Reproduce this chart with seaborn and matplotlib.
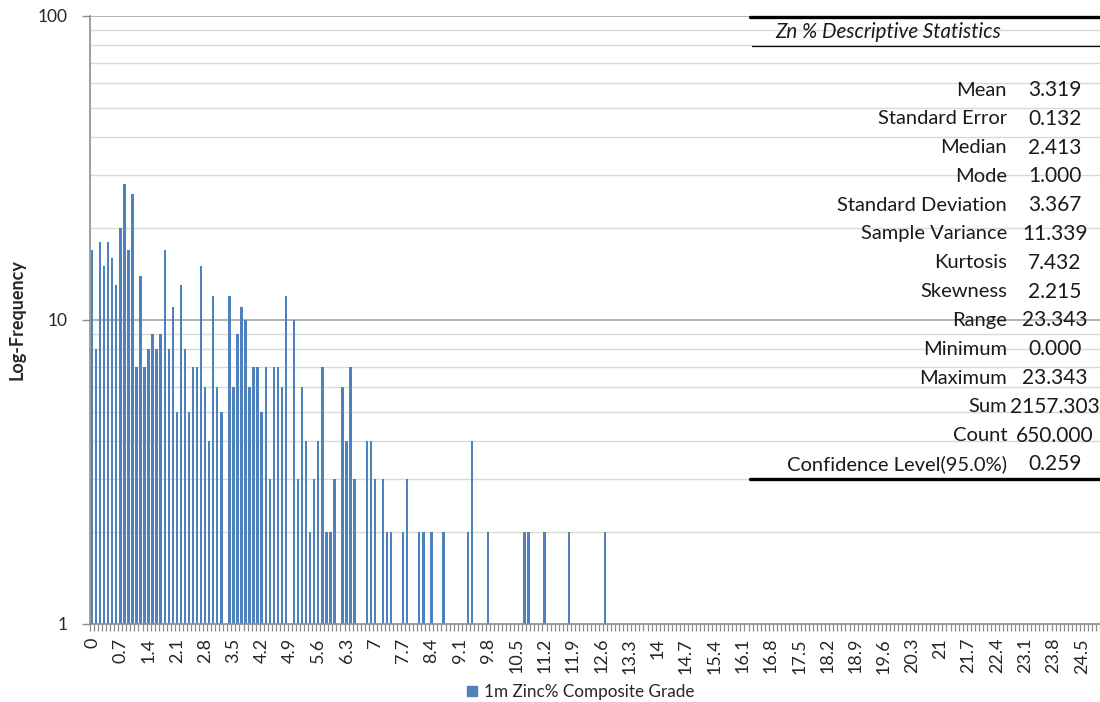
import numpy as np
import pandas as pd
import matplotlib
matplotlib.use("Agg")
import matplotlib.pyplot as plt
import seaborn as sns
from matplotlib.lines import Line2D
from matplotlib.patches import Patch

# ---------------- data ----------------
n_bins = 250
grades = [round(0.1 * i, 1) for i in range(n_bins)]          # category axis 0.0 .. 24.9
grade_labels = [f"{g:g}" for g in grades]

freq_visible = [
    17, 8, 18, 15, 18, 16, 13, 20, 28, 17,
    26, 7, 14, 7, 8, 9, 8, 9, 17, 8,
    11, 5, 13, 8, 5, 7, 7, 15, 6, 4,
    12, 6, 5, 0, 12, 6, 9, 11, 10, 6,
    7, 7, 5, 7, 3, 7, 7, 6, 12, 0,
    10, 3, 6, 4, 2, 3, 4, 7, 2, 2,
    3, 0, 6, 4, 7, 3, 0, 0, 4, 4,
    3, 0, 3, 2, 2, 0, 0, 2, 3, 0,
    0, 2, 2, 0, 2, 0, 0, 2, 0, 0,
    0, 0, 0, 2, 4, 0, 0, 0, 2, 0,
    0, 0, 0, 0, 0, 0, 0, 2, 2, 0,
    0, 0, 2, 0, 0, 0, 0, 0, 2, 0,
    0, 0, 0, 0, 0, 0, 0, 2, 0, 0,
]
# no visible bars beyond 12.9
freq = freq_visible + [0] * (n_bins - len(freq_visible))

stat_names = ["Mean", "Standard Error", "Median", "Mode", "Standard Deviation",
              "Sample Variance", "Kurtosis", "Skewness", "Range", "Minimum",
              "Maximum", "Sum", "Count", "Confidence Level(95.0%)"]
stat_values = ["3.319", "0.132", "2.413", "1.000", "3.367", "11.339", "7.432",
               "2.215", "23.343", "0.000", "23.343", "2157.303", "650.000", "0.259"]

series_name = "1m Zinc% Composite Grade"
table_title = "Zn % Descriptive Statistics"
y_label = "Log-Frequency"

# ---------------- figure ----------------
W, H = 1100, 702
sns.set_style("white")
plt.rcParams["font.family"] = ["Lato", "DejaVu Sans"]

fig = plt.figure(figsize=(W / 100, H / 100), dpi=100)
ax_left, ax_right = 90 / W, 1.0
ax_bottom, ax_top = (H - 624) / H, (H - 16) / H
ax = fig.add_axes([ax_left, ax_bottom, ax_right - ax_left, ax_top - ax_bottom])

df = pd.DataFrame({"grade": grade_labels,
                   "freq": [f if f > 0 else np.nan for f in freq]})

bar_color = "#4F81BD"
sns.barplot(data=df, x="grade", y="freq", order=grade_labels, color=bar_color,
            width=0.6, errorbar=None, ax=ax, linewidth=0, saturation=1)

ax.set_yscale("log")
ax.set_ylim(1, 100)
ax.set_xlim(-0.5, n_bins - 0.5)

# gridlines
for v in [2, 3, 4, 5, 6, 7, 8, 9, 20, 30, 40, 50, 60, 70, 80, 90]:
    ax.axhline(v, color="#D9D9D9", lw=1.0, zorder=0)
for v in [10, 100]:
    ax.axhline(v, color="#A6A6A6", lw=1.2, zorder=0)

# ticks
ax.set_yticks([1, 10, 100])
ax.set_yticklabels(["1", "10", "100"])
ax.yaxis.set_minor_locator(matplotlib.ticker.NullLocator())
ax.tick_params(axis="y", which="major", length=6, width=1, color="#8C8C8C",
               labelsize=12.5, pad=10, left=True)

major_pos = list(range(0, n_bins, 7))
ax.set_xticks(major_pos)
ax.set_xticklabels([grade_labels[i] for i in major_pos], rotation=90,
                   fontsize=13)
ax.set_xticks([i + 0.5 for i in range(-1, n_bins)], minor=True)
ax.tick_params(axis="x", which="major", length=0, pad=10, bottom=True)
ax.tick_params(axis="x", which="minor", length=5, width=0.9, color="#8C8C8C",
               bottom=True)

for s in ["top", "right"]:
    ax.spines[s].set_visible(False)
for s in ["left", "bottom"]:
    ax.spines[s].set_color("#8C8C8C")
    ax.spines[s].set_linewidth(1.2)

ax.set_xlabel("")
ax.set_ylabel(y_label, fontsize=13, fontweight="bold")
ax.yaxis.set_label_coords((26 - 90) / 1010, 0.5)

# ---------------- statistics table ----------------
def fx(px):
    return px / W

def fy(py):
    return 1 - py / H

fig.add_artist(Line2D([fx(750), 1.0], [fy(17), fy(17)], color="black", lw=2.4))
fig.add_artist(Line2D([fx(752), 1.0], [fy(46), fy(46)], color="black", lw=0.9))
fig.add_artist(Line2D([fx(750), 1.0], [fy(479), fy(479)], color="black", lw=2.4))
fig.text(fx(775), fy(32), table_title, ha="left", va="center", fontsize=14.8,
         style="italic", color="#1A1A1A")

row_y0, row_dy = 90, 28.8
for k, (name, val) in enumerate(zip(stat_names, stat_values)):
    yy = fy(row_y0 + k * row_dy)
    fig.text(fx(1007), yy, name, ha="right", va="center", fontsize=14.5,
             color="#1A1A1A")
    fig.text(fx(1055), yy, val, ha="center", va="center", fontsize=15,
             color="#1A1A1A")

# ---------------- legend ----------------
handle = Patch(facecolor=bar_color, edgecolor=bar_color)
fig.legend([handle], [series_name], loc="center", bbox_to_anchor=(fx(581), fy(692)),
           frameon=False, fontsize=12.3, handlelength=0.6, handleheight=0.6,
           handletextpad=0.4)

fig.savefig("out.png", dpi=100)
